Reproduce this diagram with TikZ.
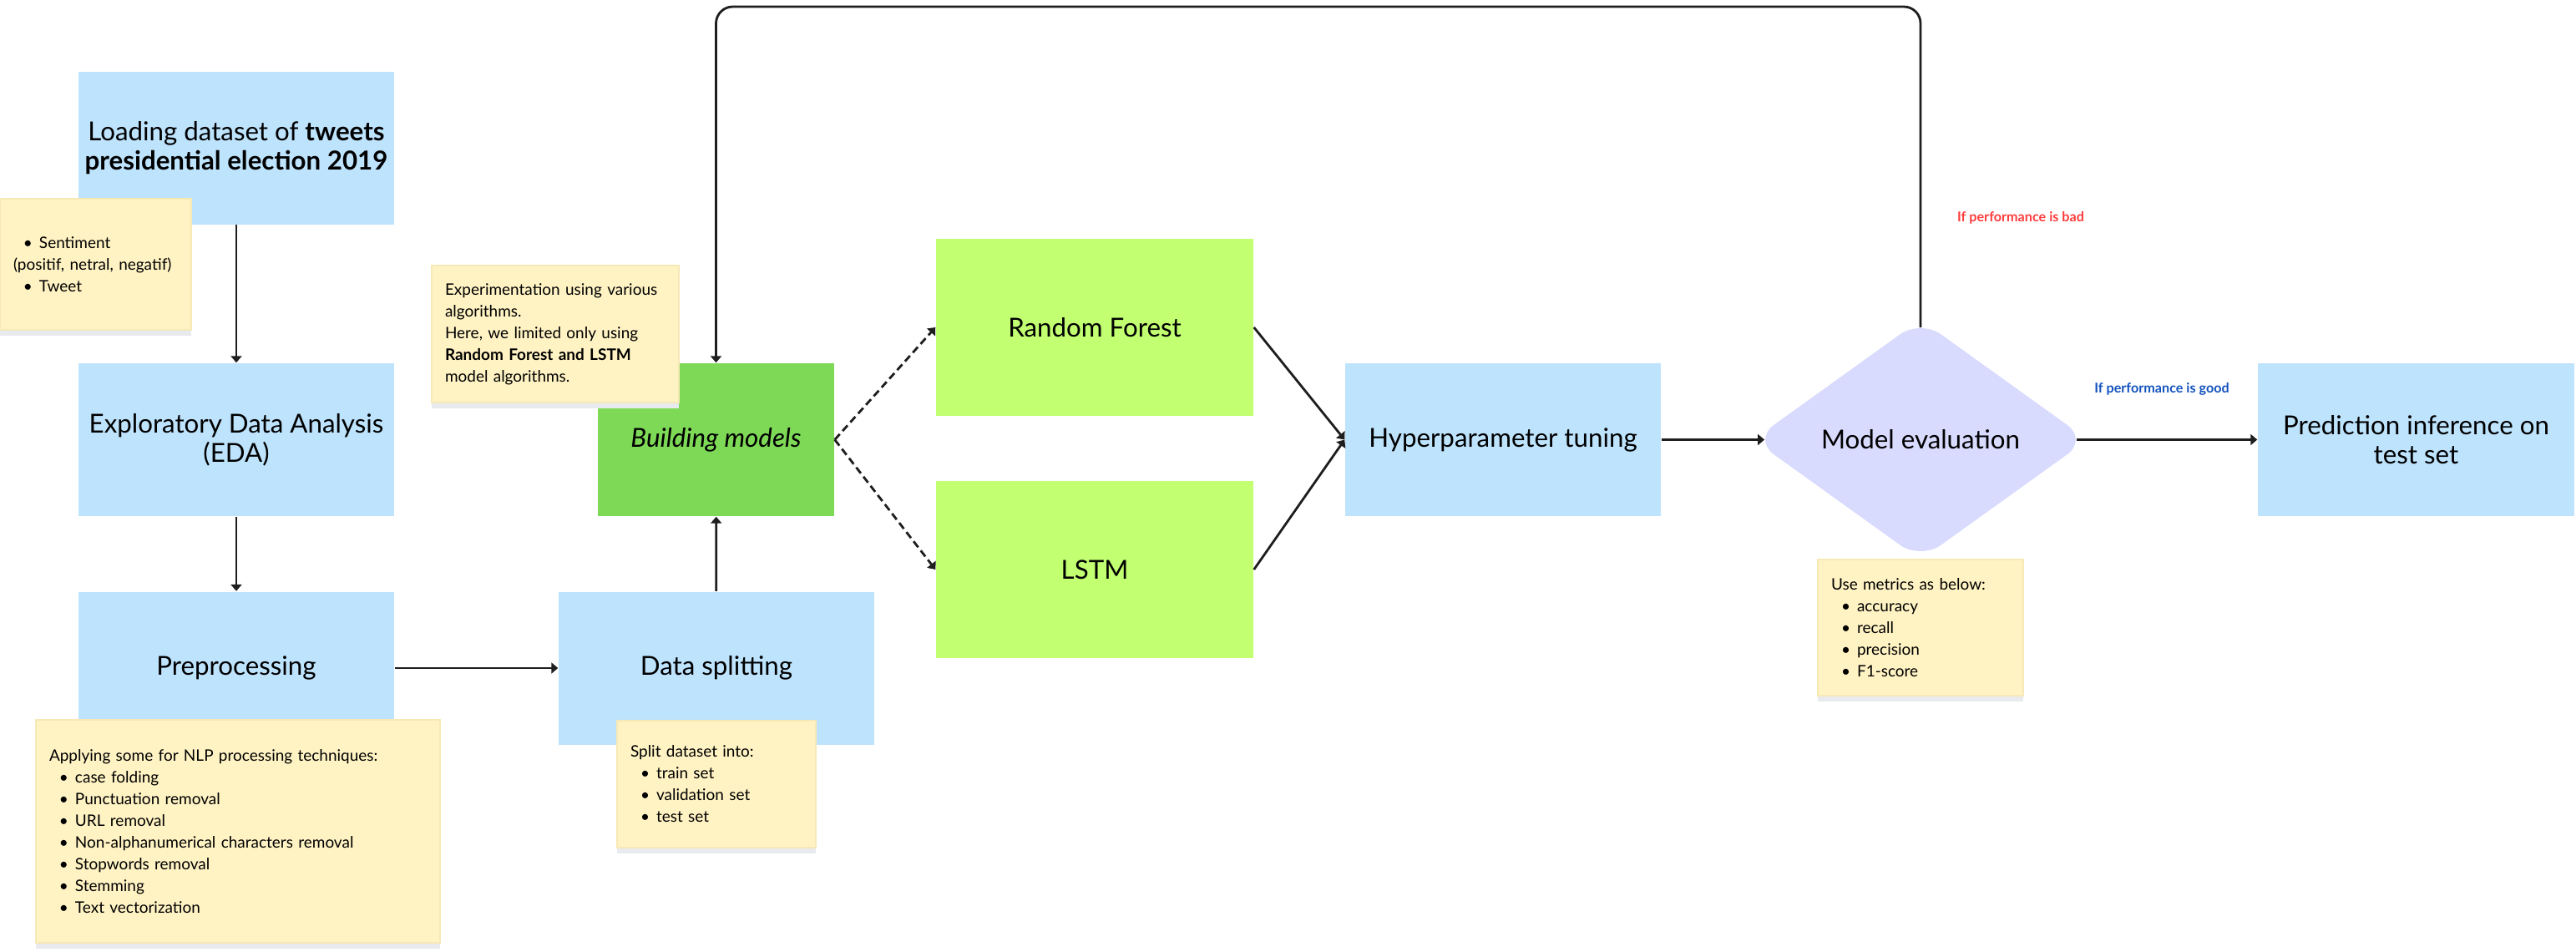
\documentclass[tikz,border=0pt]{standalone}
\usepackage{fontspec}
\setmainfont{Lato}
\usetikzlibrary{arrows.meta,shapes.geometric,shadows}

\definecolor{boxblue}{RGB}{190,227,253}
\definecolor{buildgreen}{RGB}{126,217,87}
\definecolor{algogreen}{RGB}{194,255,113}
\definecolor{evalpurple}{RGB}{216,218,254}
\definecolor{noteyellow}{RGB}{255,243,196}
\definecolor{noteedge}{RGB}{246,233,182}
\definecolor{shadowgrey}{RGB}{232,234,238}
\definecolor{badred}{RGB}{255,59,59}
\definecolor{goodblue}{RGB}{18,82,190}
\definecolor{linecol}{RGB}{30,30,30}

\newcommand{\boxfont}{\fontsize{8.9}{10}\selectfont}
\newcommand{\notefont}{\fontsize{5.4}{7.4}\selectfont}
\newcommand{\lblfont}{\fontsize{4.6}{5.5}\selectfont\bfseries}
\newcommand{\bitem}[1]{\makebox[0.31cm][l]{\hspace{0.12cm}\textbullet}#1}

\tikzset{
  stepbox/.style={fill=boxblue, minimum width=3.78cm, minimum height=1.83cm,
    inner sep=0pt, align=center, font=\boxfont},
  algobox/.style={stepbox, fill=algogreen, minimum width=3.80cm, minimum height=2.12cm},
  evalshape/.style={diamond, fill=evalpurple, minimum width=4.01cm, minimum height=2.88cm,
    inner sep=0pt, rounded corners=0.3cm, font=\boxfont},
  note/.style={fill=noteyellow, draw=noteedge, line width=0.3pt, inner xsep=0.16cm,
    inner ysep=0pt, align=left, font=\notefont,
    general shadow={fill=shadowgrey, draw=none, shadow yshift=-0.07cm}},
  flow/.style={draw=linecol, line width=0.8pt,
    -{Triangle[length=0.08cm,width=0.13cm]}},
  dashflow/.style={flow, dash pattern=on 0.09cm off 0.05cm}
}

\begin{document}
\begin{tikzpicture}

\useasboundingbox (0,0) rectangle (30.85,-11.39);

\node at (2.83,-1.77) [stepbox] (load) {Loading dataset of \textbf{tweets}\\\textbf{presidential election 2019}};
\node at (2.83,-5.265) [stepbox] (eda) {Exploratory Data Analysis\\(EDA)};
\node at (2.83,-8.00) [stepbox] (prep) {Preprocessing};
\node at (8.58,-8.00) [stepbox] (split) {Data splitting};
\node at (8.575,-5.265) [stepbox, fill=buildgreen, minimum width=2.83cm] (build) {\textit{Building models}};
\node at (13.11,-3.92) [algobox] (rf) {Random Forest};
\node at (13.11,-6.82) [algobox] (lstm) {LSTM};
\node at (18.00,-5.265) [stepbox] (hyper) {Hyperparameter tuning};
\node at (23.00,-5.265) [evalshape] (eval) {Model evaluation};
\node at (28.935,-5.265) [stepbox, minimum width=3.79cm] (pred) {Prediction inference on\\test set};

\node at (1.145,-3.165) [note, text width=1.97cm, minimum height=1.57cm] (notedata)
  {\bitem{Sentiment}\\(positif, netral, negatif)\\\bitem{Tweet}};
\node at (2.85,-9.955) [note, text width=4.52cm, minimum height=2.67cm] (notenlp)
  {Applying some for NLP processing techniques:\\\bitem{case folding}\\\bitem{Punctuation removal}\\\bitem{URL removal}\\\bitem{Non-alphanumerical characters removal}\\\bitem{Stopwords removal}\\\bitem{Stemming}\\\bitem{Text vectorization}};
\node at (6.65,-4.00) [note, text width=2.64cm, minimum height=1.64cm] (noteexp)
  {Experimentation using various\\algorithms.\\Here, we limited only using\\\textbf{Random Forest and LSTM}\\model algorithms.};
\node at (8.58,-9.39) [note, text width=2.06cm, minimum height=1.52cm] (notesplit)
  {Split dataset into:\\\bitem{train set}\\\bitem{validation set}\\\bitem{test set}};
\node at (23.00,-7.515) [note, text width=2.14cm, minimum height=1.63cm] (notemetric)
  {Use metrics as below:\\\bitem{accuracy}\\\bitem{recall}\\\bitem{precision}\\\bitem{F1-score}};

\node at (24.20,-2.61) [font=\lblfont, text=badred] (badlbl) {If performance is bad};
\node at (25.89,-4.66) [font=\lblfont, text=goodblue] (goodlbl) {If performance is good};

\coordinate (looptop) at (15.00,-0.08);

\draw[flow] (load) -- (eda);
\draw[flow] (eda) -- (prep);
\draw[flow] (prep) -- (split);
\draw[flow] (split) -- (build);
\draw[dashflow] (build.east) -- (rf.west);
\draw[dashflow] (build.east) -- (lstm.west);
\draw[flow] (rf.east) -- (hyper.west);
\draw[flow] (lstm.east) -- (hyper.west);
\draw[flow, shorten >=-0.143cm] (hyper.east) -- (eval.west);
\draw[flow, shorten <=-0.143cm] (eval.east) -- (pred.west);
\draw[flow, rounded corners=0.2cm, shorten <=-0.103cm] (eval.north) |- (looptop) -| (build.north);

\end{tikzpicture}
\end{document}
